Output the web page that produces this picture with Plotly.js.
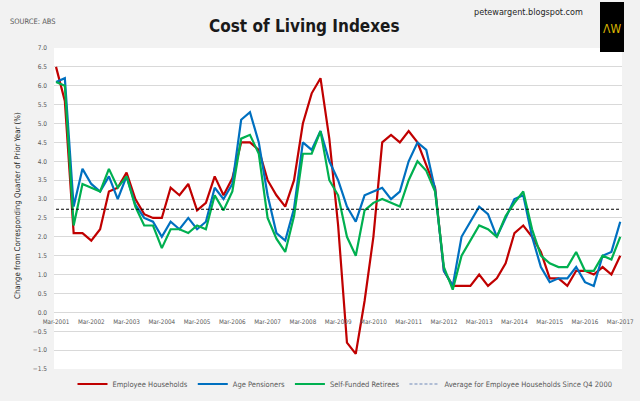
<!DOCTYPE html>
<html>
<head>
<meta charset="utf-8">
<script src="https://cdn.plot.ly/plotly-3.0.1.min.js"></script>
<style>html,body{margin:0;padding:0;background:#f2f2f2;}#chart{width:640px;height:401px;}</style>
</head>
<body>
<div id="chart"></div>
<script>
var months = ["Mar", "Jun", "Sep", "Dec"];
var years = [2001, 2002, 2003, 2004, 2005, 2006, 2007, 2008, 2009, 2010, 2011, 2012, 2013, 2014, 2015, 2016, 2017];
var quarters = [];
years.forEach(function (yr) {
  months.forEach(function (m) {
    if (quarters.length < 65) quarters.push(m + "-" + yr);
  });
});
var yearTicks = years.map(function (yr) { return "Mar-" + yr; });

var employeeHouseholds = [
  6.5, 5.6, 2.1, 2.1, 1.9, 2.2, 3.2, 3.3, 3.7, 3.0,
  2.6, 2.5, 2.5, 3.3, 3.1, 3.4, 2.7, 2.9, 3.6, 3.1,
  3.55, 4.5, 4.5, 4.3, 3.5, 3.1, 2.8, 3.5, 5.0, 5.8,
  6.2, 4.6, 2.3, -0.8, -1.1, 0.3, 2.0, 4.5, 4.7, 4.5,
  4.8, 4.5, 3.9, 3.3, 1.1, 0.7, 0.7, 0.7, 1.0, 0.7,
  0.9, 1.3, 2.1, 2.3, 2.0, 1.6, 0.9, 0.9, 0.7, 1.1,
  1.1, 1.0, 1.2, 1.0, 1.5
];
var agePensioners = [
  6.1, 6.2, 2.8, 3.8, 3.4, 3.2, 3.6, 3.0, 3.6, 2.85,
  2.5, 2.4, 2.0, 2.4, 2.2, 2.5, 2.2, 2.4, 3.3, 3.0,
  3.4, 5.1, 5.3, 4.5, 3.1, 2.1, 1.9, 2.75, 4.5, 4.3,
  4.8, 4.0, 3.5, 2.8, 2.4, 3.1, 3.2, 3.3, 3.0, 3.2,
  4.0, 4.5, 4.3, 3.25, 1.1, 0.7, 2.0, 2.4, 2.8, 2.6,
  2.0, 2.5, 3.0, 3.1, 2.0, 1.2, 0.8, 0.9, 0.9, 1.2,
  0.8, 0.7, 1.5, 1.6, 2.4
];
var selfFundedRetirees = [
  6.1, 6.0, 2.3, 3.4, 3.3, 3.2, 3.8, 3.3, 3.6, 2.8,
  2.3, 2.3, 1.7, 2.2, 2.2, 2.1, 2.3, 2.2, 3.1, 2.7,
  3.2, 4.6, 4.7, 4.2, 2.5, 1.95, 1.6, 2.55, 4.2, 4.2,
  4.8, 3.5, 3.1, 2.0, 1.5, 2.7, 2.9, 3.0, 2.9, 2.8,
  3.5, 4.0, 3.75, 3.2, 1.2, 0.6, 1.5, 1.9, 2.3, 2.2,
  2.0, 2.55, 2.9, 3.2, 2.2, 1.5, 1.3, 1.2, 1.2, 1.6,
  1.1, 1.1, 1.5, 1.4, 2.0
];
var averageEmployee = 2.73;

var FONT = "Liberation Sans Narrow, Arial Narrow, DejaVu Sans Condensed, Liberation Sans, sans-serif";

// pixel -> paper helpers (plot area: x 54..622, y 48..369)
function px(x) { return (x - 54) / 568; }
function py(y) { return (369 - y) / 321; }

var traces = [
  { x: quarters, y: employeeHouseholds, type: "scatter", mode: "lines", name: "Employee Households",
    line: { color: "#c00000", width: 2.2 } },
  { x: quarters, y: agePensioners, type: "scatter", mode: "lines", name: "Age Pensioners",
    line: { color: "#0070c0", width: 2.2 } },
  { x: quarters, y: selfFundedRetirees, type: "scatter", mode: "lines", name: "Self-Funded Retirees",
    line: { color: "#00b050", width: 2.2 } },
  { x: [quarters[0], quarters[quarters.length - 1]], y: [averageEmployee, averageEmployee],
    type: "scatter", mode: "lines", name: "Average for Employee Households Since Q4 2000",
    showlegend: false, line: { color: "#000000", width: 1.2, dash: "3px,2px" } },
  { x: [null], y: [null], type: "scatter", mode: "lines",
    name: "Average for Employee Households Since Q4 2000",
    line: { color: "#9aaccc", width: 1.5, dash: "3px,2px" } }
];

var layout = {
  width: 640, height: 401,
  paper_bgcolor: "#f2f2f2", plot_bgcolor: "#ffffff",
  margin: { l: 54, r: 18, t: 48, b: 32, pad: 0, autoexpand: false },
  font: { family: FONT, color: "#595959", size: 7 },
  showlegend: true,
  xaxis: {
    type: "category", range: [-0.23, 64.2],
    tickmode: "array", tickvals: yearTicks, ticktext: yearTicks,
    anchor: "free", position: 1.5 / 8.5,
    showgrid: false, zeroline: false, showline: false, ticks: "",
    tickangle: 0, automargin: false, ticklabelstandoff: 4,
    tickfont: { family: FONT, size: 6.3, color: "#595959" }
  },
  yaxis: {
    range: [-1.5, 7.0], tick0: 0, dtick: 0.5, tickformat: ".1f",
    showgrid: true, gridcolor: "#d9d9d9", gridwidth: 1,
    zeroline: false, showline: false, ticks: "", automargin: false,
    ticklabelstandoff: 6,
    tickfont: { family: FONT, size: 6.5, color: "#595959" }
  },
  legend: {
    orientation: "h", x: px(345), xanchor: "center", y: py(384), yanchor: "middle",
    bgcolor: "rgba(0,0,0,0)", font: { family: FONT, size: 7.5, color: "#595959" },
    itemwidth: 30, tracegroupgap: 0
  },
  shapes: [
    { type: "rect", xref: "paper", yref: "paper", x0: px(600), x1: px(624), y0: py(52), y1: py(2),
      fillcolor: "#000000", line: { width: 0 }, layer: "above" }
  ],
  annotations: [
    { text: "<b>Cost of Living Indexes</b>", xref: "paper", yref: "paper", x: px(304), y: py(26),
      xanchor: "center", yanchor: "middle", showarrow: false,
      font: { family: FONT, size: 17, color: "#1a1a1a" } },
    { text: "SOURCE: ABS", xref: "paper", yref: "paper", x: px(8), y: py(21),
      xanchor: "left", yanchor: "middle", showarrow: false,
      font: { family: FONT, size: 7.5, color: "#595959" } },
    { text: "petewargent.blogspot.com", xref: "paper", yref: "paper", x: px(528), y: py(12),
      xanchor: "center", yanchor: "middle", showarrow: false,
      font: { family: FONT, size: 9, color: "#262626" } },
    { text: "ΛW", xref: "paper", yref: "paper", x: px(612), y: py(29),
      xanchor: "center", yanchor: "middle", showarrow: false,
      font: { family: FONT, size: 12, color: "#d8b400" } },
    { text: "Change from Corresponding Quarter of Prior Year (%)", xref: "paper", yref: "paper",
      x: px(17), y: py(206), xanchor: "center", yanchor: "middle", textangle: -90, showarrow: false,
      font: { family: FONT, size: 7.8, color: "#262626" } }
  ]
};

Plotly.newPlot("chart", traces, layout, { displayModeBar: false, staticPlot: true });
</script>
</body>
</html>
